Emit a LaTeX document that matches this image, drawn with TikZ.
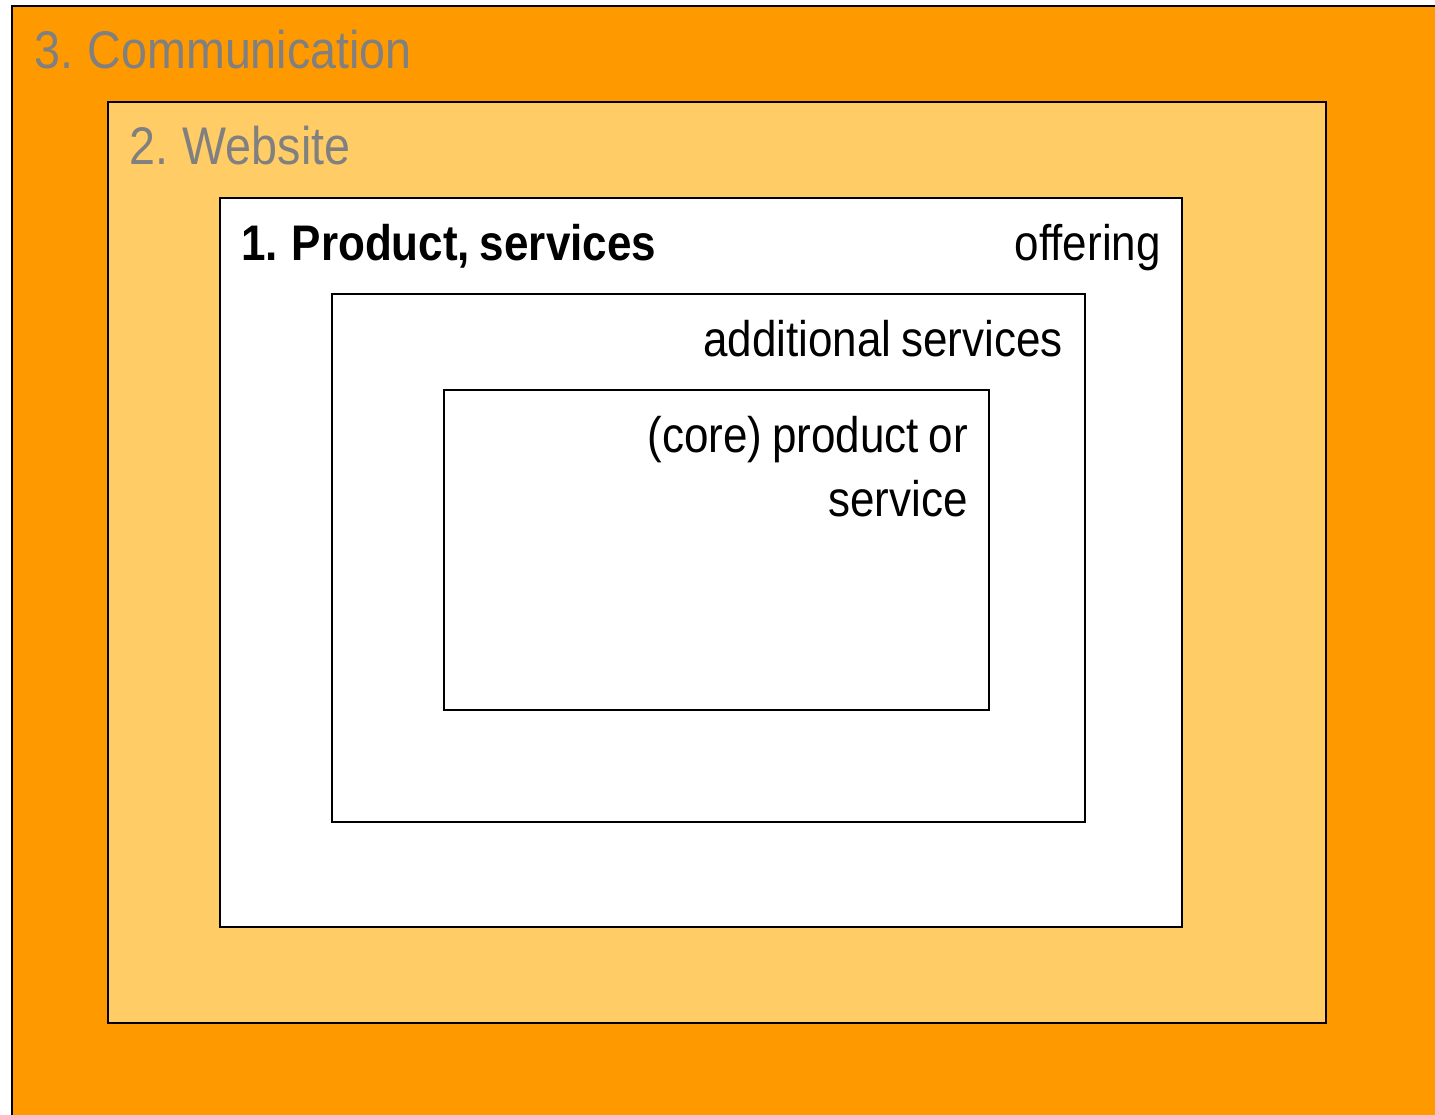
\documentclass[tikz,border=0pt]{standalone}
\usepackage{fontspec}
\setmainfont{Liberation Sans}[FakeStretch=0.88,WordSpace=0.8]
\definecolor{outerorange}{HTML}{FF9900}
\definecolor{lightorange}{HTML}{FFCC66}
\definecolor{titlegray}{HTML}{808080}
\begin{document}
\begin{tikzpicture}[x=1pt,y=-1pt,
  layer/.style={draw=black,line width=1.5pt},
  bigtitle/.style={inner sep=0pt,text=titlegray,font=\fontsize{53}{62}\selectfont},
  label/.style={inner sep=0pt,text=black,font=\fontsize{50}{63}\selectfont}]
\useasboundingbox (0,0) rectangle (1435,1114);
\fill[white] (0,0) rectangle (1435,1114);
\path[layer,fill=outerorange] (12,6) rectangle (1445,1124);
\path[layer,fill=lightorange] (108,102) rectangle (1326,1023);
\path[layer,fill=white] (220,198) rectangle (1182,927);
\path[layer,fill=white] (332,294) rectangle (1085,822);
\path[layer,fill=white] (444,390) rectangle (989,710);
\node[bigtitle,anchor=base west] (comm) at (34,68) {3. Communication};
\node[bigtitle,anchor=base west] (web) at (129,164) {2. Website};
\node[label,anchor=base west,font=\fontsize{50}{63}\selectfont\bfseries] (prod) at (241,260) {1. Product, services};
\node[label,anchor=base east] (offer) at (1161,260) {offering};
\node[label,anchor=base east] (addl) at (1063,356) {additional services};
\node[label,anchor=base east] (core1) at (968,452) {(core) product or};
\node[label,anchor=base east] (core2) at (968,516) {service};
\end{tikzpicture}
\end{document}
